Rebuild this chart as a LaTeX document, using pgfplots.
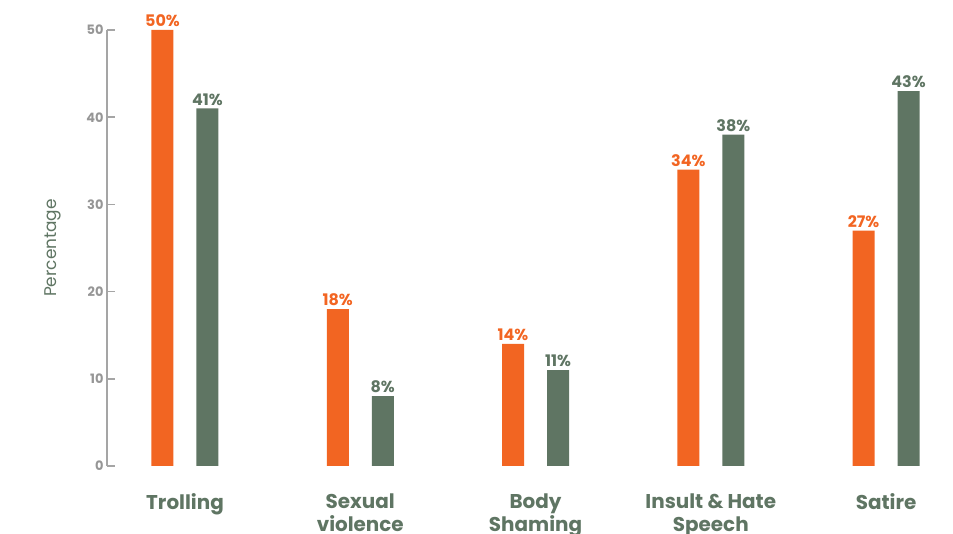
\documentclass[border=0pt]{standalone}
\usepackage{fontspec}
\setmainfont{Poppins}
\usepackage{pgfplots}
\pgfplotsset{compat=1.18}
\definecolor{orng}{RGB}{242,101,34}
\definecolor{grn}{RGB}{95,117,99}
\definecolor{tickgray}{RGB}{150,150,150}
\definecolor{axgray}{RGB}{165,165,165}
\begin{document}
\begin{tikzpicture}
\begin{axis}[name=ax, scale only axis, width=846bp, height=436bp,
 xmin=-0.445, xmax=4.382, ymin=0, ymax=50, clip=false,
 ybar=23bp, bar width=22bp,
 axis lines*=left,
 x axis line style={draw=none},
 y axis line style={draw=axgray, line width=1.5bp},
 xtick={0,...,4},
 xticklabels={Trolling,{Sexual\\violence},{Body\\Shaming},{Insult \& Hate\\Speech},Satire},
 major x tick style={draw=none},
 ytick={0,10,...,50},
 tick align=inside, major tick length=8bp,
 major y tick style={draw=axgray, line width=1.5bp},
 xticklabel style={font=\fontsize{20}{23}\selectfont\bfseries, text=grn, align=center, yshift=-24bp},
 yticklabel style={font=\fontsize{13}{15}\selectfont\bfseries, text=tickgray},
 /pgf/number format/assume math mode=true,
 ylabel={Percentage},
 ylabel style={font=\fontsize{17}{20}\selectfont, text=grn, at={(axis description cs:-0.0638,0.5)}, anchor=center},
 nodes near coords={\pgfmathprintnumber{\pgfplotspointmeta}\%},
]
\addplot[fill=orng, draw=none,
 nodes near coords style={text=orng, font=\fontsize{16}{18}\selectfont\bfseries, anchor=south, inner sep=3bp}]
 coordinates {(0,50) (1,18) (2,14) (3,34) (4,27)};
\addplot[fill=grn, draw=none,
 nodes near coords style={text=grn, font=\fontsize{16}{18}\selectfont\bfseries, anchor=south, inner sep=3bp}]
 coordinates {(0,41) (1,8) (2,11) (3,38) (4,43)};
\end{axis}
\pgfresetboundingbox
\path[use as bounding box] ([xshift=-107bp,yshift=-68bp]ax.south west) rectangle ([yshift=30bp]ax.north east);
\end{tikzpicture}
\end{document}
